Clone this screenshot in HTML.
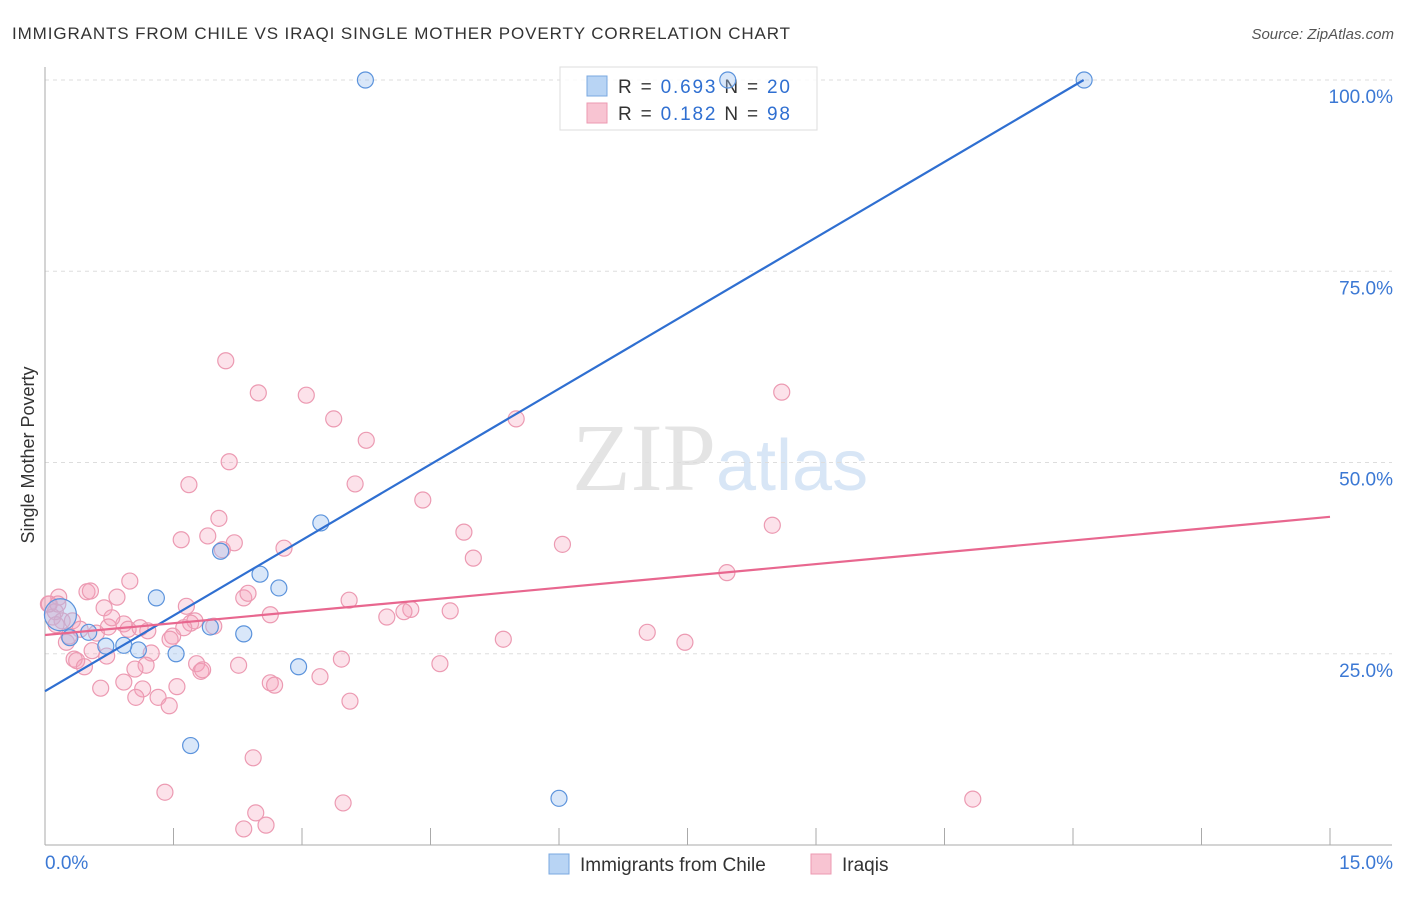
<!DOCTYPE html>
<html><head><meta charset="utf-8"><style>
body{margin:0;background:#fff;font-family:"Liberation Sans",sans-serif;}
</style></head><body>
<svg width="1406" height="892" xmlns="http://www.w3.org/2000/svg" font-family="Liberation Sans, sans-serif">
<text x="12" y="39" font-size="17" fill="#333" textLength="778" lengthAdjust="spacing">IMMIGRANTS FROM CHILE VS IRAQI SINGLE MOTHER POVERTY CORRELATION CHART</text>
<text x="1394" y="39" font-size="15" fill="#555" font-style="italic" text-anchor="end">Source: ZipAtlas.com</text>
<text x="716" y="490" font-size="96" fill="#e4e4e4" text-anchor="end" font-family="Liberation Serif, serif">ZIP</text>
<text x="716" y="490" font-size="72" fill="#d8e6f6">atlas</text>
<text transform="translate(34,455) rotate(-90)" font-size="18" fill="#333" text-anchor="middle">Single Mother Poverty</text>
<g id="grid"></g><g id="axes"></g>
<g>
<rect x="560" y="67" width="257" height="63" fill="#fff" stroke="#ddd" fill-opacity="0.85"/>
<rect x="587" y="76" width="20" height="20" fill="#b8d4f4" stroke="#7aa8e0"/>
<rect x="587" y="103" width="20" height="20" fill="#f8c4d2" stroke="#ec9ab2"/>
<text x="618" y="93" font-size="19" fill="#333" textLength="172" lengthAdjust="spacing">R = <tspan fill="#2f6fd1">0.693</tspan>   N = <tspan fill="#2f6fd1">20</tspan></text>
<text x="618" y="120" font-size="19" fill="#333" textLength="172" lengthAdjust="spacing">R =  <tspan fill="#2f6fd1">0.182</tspan>   N = <tspan fill="#2f6fd1">98</tspan></text>
</g>
<g id="marks"></g>
<g>
<rect x="549" y="854" width="20" height="20" fill="#b8d4f4" stroke="#7aa8e0"/>
<text x="580" y="871" font-size="19" fill="#333">Immigrants from Chile</text>
<rect x="811" y="854" width="20" height="20" fill="#f8c4d2" stroke="#ec9ab2"/>
<text x="842" y="871" font-size="19" fill="#333">Iraqis</text>
</g>
</svg>
<script>
const yTicks=[25,50,75,100];
const xTickLabels=["0.0%","15.0%"];
const blueX=[3.74,7.97,12.13,1.30,3.22,2.51,2.73,2.05,1.93,2.32,1.53,2.96,1.70,6.0,1.09,0.51,0.71,0.92,0.18,0.29];
const blueY=[100,100,100,32.3,42.1,35.4,33.6,38.4,28.5,27.6,25.0,23.3,13.0,6.1,25.5,27.8,26.0,26.1,30.1,27.1];
const blueR=[8,8,8,8,8,8,8,8,8,8,8,8,8,8,8,8,8,8,16,8];
const pinkPx=[[226,361],[258,393],[306,395],[334,419],[366,440],[229,462],[189,485],[355,484],[423,500],[219,518],[181,540],[208,536],[234,543],[284,548],[222,550],[464,532],[473,558],[516,419],[562,544],[782,392],[772,525],[727,573],[647,632],[685,642],[503,639],[450,611],[411,609],[404,612],[387,617],[349,600],[270,615],[244,598],[248,593],[186,606],[195,621],[191,623],[214,626],[184,628],[173,636],[170,639],[148,631],[130,581],[117,597],[104,608],[87,592],[90,591],[59,597],[48,604],[53,617],[55,612],[62,621],[72,621],[80,629],[96,633],[108,627],[124,624],[128,629],[112,618],[140,628],[151,653],[146,665],[135,669],[107,656],[92,651],[74,659],[77,661],[84,667],[101,688],[124,682],[143,689],[136,697],[158,697],[169,706],[177,687],[197,664],[201,671],[203,670],[239,665],[270,683],[275,685],[320,677],[341,659],[350,701],[440,664],[253,758],[165,792],[244,829],[256,813],[266,825],[343,803],[973,799],[49,604],[58,604],[66,642],[69,636],[56,625]];
const pinkX=pinkPx.map(p=>+((p[0]-45)*15/1285).toFixed(2));
const pinkY=pinkPx.map(p=>+((845-p[1])/7.65).toFixed(1));
const blueLine=[20.1,6.59];
const pinkLine=[27.45,1.03];
const X=v=>45+v/15*1285, Y=v=>845-v*7.65;
const NS="http://www.w3.org/2000/svg";
function mk(t,a,p){const e=document.createElementNS(NS,t);for(const k in a)e.setAttribute(k,a[k]);p.appendChild(e);return e;}
const grid=document.getElementById('grid'),axes=document.getElementById('axes'),marks=document.getElementById('marks');
yTicks.forEach(t=>{
 const l=mk('line',{x1:45,x2:1392,y1:Y(t),y2:Y(t),stroke:'#ddd','stroke-dasharray':'4,4'},grid);
 
 
 const tx=mk('text',{x:1393,y:Y(t)+23,'font-size':19,fill:'#3b78d4','text-anchor':'end'},axes);
 tx.textContent=t.toFixed(1)+'%';
 
 
});
mk('line',{x1:45,x2:45,y1:67,y2:845,stroke:'#aaa'},axes);
mk('line',{x1:45,x2:1392,y1:845,y2:845,stroke:'#aaa'},axes);
for(let i=0;i<=10;i++){const t=mk('line',{x1:X(i*1.5),x2:X(i*1.5),y1:828,y2:845,stroke:'#aaa'},axes);
 
 }
const xl0=mk('text',{x:45,y:869,'font-size':19,fill:'#3b78d4'},axes);xl0.textContent=xTickLabels[0];


const xl1=mk('text',{x:1393,y:869,'font-size':19,fill:'#3b78d4','text-anchor':'end'},axes);xl1.textContent=xTickLabels[1];


pinkX.forEach((x,i)=>{const c=mk('circle',{cx:X(x),cy:Y(pinkY[i]),r:8,fill:'rgba(245,160,185,0.3)',stroke:'#ec9ab2','stroke-width':1.2},marks);
 
 });
blueX.forEach((x,i)=>{const c=mk('circle',{cx:X(x),cy:Y(blueY[i]),r:blueR[i],fill:'rgba(160,195,240,0.4)',stroke:'#5b93dc','stroke-width':1.2},marks);
 
 });
const bx2=(100-blueLine[0])/blueLine[1];
const bl=mk('line',{x1:X(0),y1:Y(blueLine[0]),x2:X(bx2),y2:Y(100),stroke:'#2f6fd1','stroke-width':2.2},marks);


const pl=mk('line',{x1:X(0),y1:Y(pinkLine[0]),x2:X(15),y2:Y(pinkLine[0]+pinkLine[1]*15),stroke:'#e8678f','stroke-width':2.2},marks);


</script>
</body></html>
